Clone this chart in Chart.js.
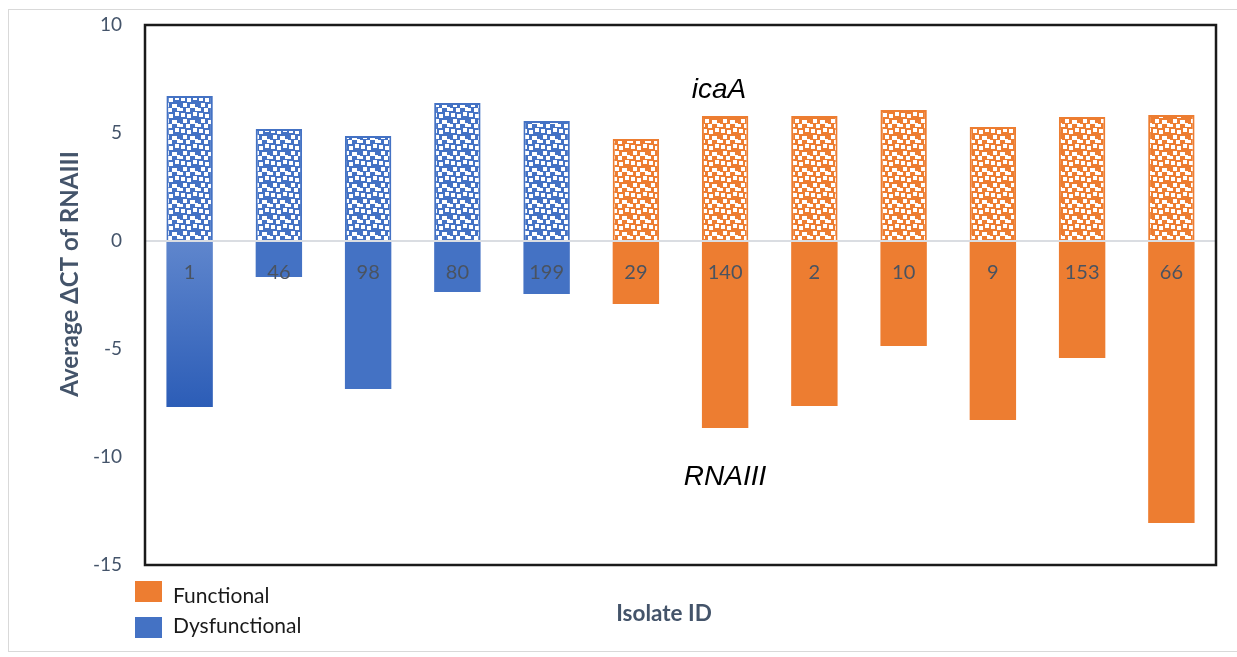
<!DOCTYPE html>
<html>
<head>
<meta charset="utf-8">
<script src="https://cdn.jsdelivr.net/npm/chart.js@4"></script>
<style>
html,body{margin:0;padding:0;background:#fff;}
#wrap{width:1237px;height:657px;position:relative;}
</style>
</head>
<body>
<div id="wrap"><canvas id="c" width="1237" height="657"></canvas></div>
<script>
// ---- data ----
const categories = ['1','46','98','80','199','29','140','2','10','9','153','66'];
const groups = ['Dysfunctional','Dysfunctional','Dysfunctional','Dysfunctional','Dysfunctional',
                'Functional','Functional','Functional','Functional','Functional','Functional','Functional'];
const icaA   = [6.71, 5.19, 4.86, 6.39, 5.56, 4.72, 5.79, 5.79, 6.06, 5.28, 5.74, 5.83];
const rnaIII = [-7.69, -1.67, -6.85, -2.36, -2.45, -2.92, -8.66, -7.64, -4.86, -8.29, -5.42, -13.06];
const yTicks = [10, 5, 0, -5, -10, -15];
const legendItems = ['Functional', 'Dysfunctional'];

// ---- styles ----
const BLUE = '#4472C4', ORANGE = '#ED7D31';
const FONT = 'Lato, "Open Sans", "Noto Sans", sans-serif';
const colorOf = g => g === 'Functional' ? ORANGE : BLUE;

function makePattern(color){
  const t = document.createElement('canvas');
  t.width = 18; t.height = 16;
  const c = t.getContext('2d');
  c.fillStyle = color; c.fillRect(0,0,18,16);
  c.fillStyle = '#ffffff';
  const sq = [[1,1,4,4],[7,2,4,4],[13,0,4,4],[3,7,4,4],[10,8,5,4],[0,12,3,3],[6,12,4,4],[15,11,3,4]];
  sq.forEach(s => c.fillRect(s[0],s[1],s[2],s[3]));
  return document.getElementById('c').getContext('2d').createPattern(t,'repeat');
}
const patBlue = makePattern(BLUE), patOrange = makePattern(ORANGE);

const decor = {
  id: 'decor',
  beforeDraw(chart){
    const ctx = chart.ctx;
    ctx.save();
    ctx.fillStyle = '#fff'; ctx.fillRect(0,0,chart.width,chart.height);
    ctx.strokeStyle = '#D9D9D9'; ctx.lineWidth = 1;
    ctx.strokeRect(8.5, 9.5, 1240, 642);
    ctx.restore();
  },
  afterDatasetsDraw(chart){
    const ctx = chart.ctx, xs = chart.scales.x, ys = chart.scales.y, ca = chart.chartArea;
    ctx.save();
    // category labels near zero line
    ctx.font = '20px ' + FONT;
    ctx.fillStyle = '#4A5360';
    ctx.textAlign = 'center'; ctx.textBaseline = 'middle';
    const y0 = ys.getPixelForValue(0);
    categories.forEach((c,i) => ctx.fillText(c, xs.getPixelForValue(i), y0 + 32));
    // annotations
    ctx.fillStyle = '#000';
    ctx.textBaseline = 'alphabetic';
    ctx.font = 'italic 28px "Liberation Sans", Arial, sans-serif';
    ctx.fillText('icaA', 719, 98);
    ctx.fillText('RNAIII', 725, 485);
    // plot border
    ctx.strokeStyle = '#1a1a1a'; ctx.lineWidth = 2.5;
    ctx.strokeRect(ca.left, ca.top, ca.right - ca.left, ca.bottom - ca.top);
    // axis titles
    ctx.textBaseline = 'middle';
    ctx.fillStyle = '#44546A';
    ctx.font = 'bold 22.5px ' + FONT;
    ctx.fillText('Isolate ID', 664, 614);
    ctx.save();
    ctx.translate(70, 274);
    ctx.rotate(-Math.PI/2);
    ctx.font = 'bold 24px ' + FONT;
    ctx.fillText('Average \u0394CT of RNAIII', 0, 0);
    ctx.restore();
    // legend
    const lc = [ORANGE, BLUE];
    const boxY = [581, 617], baseY = [603, 633];
    ctx.font = '21px ' + FONT;
    ctx.textAlign = 'left'; ctx.textBaseline = 'alphabetic';
    legendItems.forEach((t,i) => {
      ctx.fillStyle = lc[i];
      ctx.fillRect(135, boxY[i], 27, 21);
      ctx.fillStyle = '#1a1a1a';
      ctx.fillText(t, 173, baseY[i]);
    });
    ctx.restore();
  }
};

new Chart(document.getElementById('c'), {
  type: 'bar',
  data: {
    labels: categories,
    datasets: [
      {
        label: 'icaA',
        data: icaA,
        backgroundColor: groups.map(g => g === 'Functional' ? patOrange : patBlue),
        borderColor: groups.map(colorOf),
        borderWidth: 2,
        borderSkipped: 'start',
        categoryPercentage: 1,
        barPercentage: 0.52
      },
      {
        label: 'RNAIII',
        data: rnaIII,
        backgroundColor: function(ctx){
          const g = groups[ctx.dataIndex];
          if (ctx.dataIndex === 0 && ctx.chart.chartArea) {
            const ys = ctx.chart.scales.y;
            const gr = ctx.chart.ctx.createLinearGradient(0, ys.getPixelForValue(0), 0, ys.getPixelForValue(rnaIII[0]));
            gr.addColorStop(0, '#5F86CD');
            gr.addColorStop(1, '#2C5DB7');
            return gr;
          }
          return colorOf(g);
        },
        borderWidth: 0,
        categoryPercentage: 1,
        barPercentage: 0.52
      }
    ]
  },
  options: {
    responsive: false,
    animation: false,
    layout: { autoPadding: false, padding: { left: 0, top: 25, right: 21, bottom: 92 } },
    plugins: { legend: { display: false }, tooltip: { enabled: false } },
    scales: {
      x: { stacked: true, display: false },
      y: {
        stacked: true,
        min: -15, max: 10,
        afterFit(s){ s.width = 145; s.paddingTop = 0; s.paddingBottom = 0; },
        afterBuildTicks(s){ s.ticks = yTicks.map(v => ({ value: v })); },
        border: { display: false },
        grid: {
          drawTicks: false,
          color: c => c.tick && c.tick.value === 0 ? '#DADDE2' : 'rgba(0,0,0,0)',
          lineWidth: 2
        },
        ticks: {
          padding: 23,
          color: '#44546A',
          font: { family: FONT, size: 19 }
        }
      }
    }
  },
  plugins: [decor]
});
</script>
</body>
</html>
